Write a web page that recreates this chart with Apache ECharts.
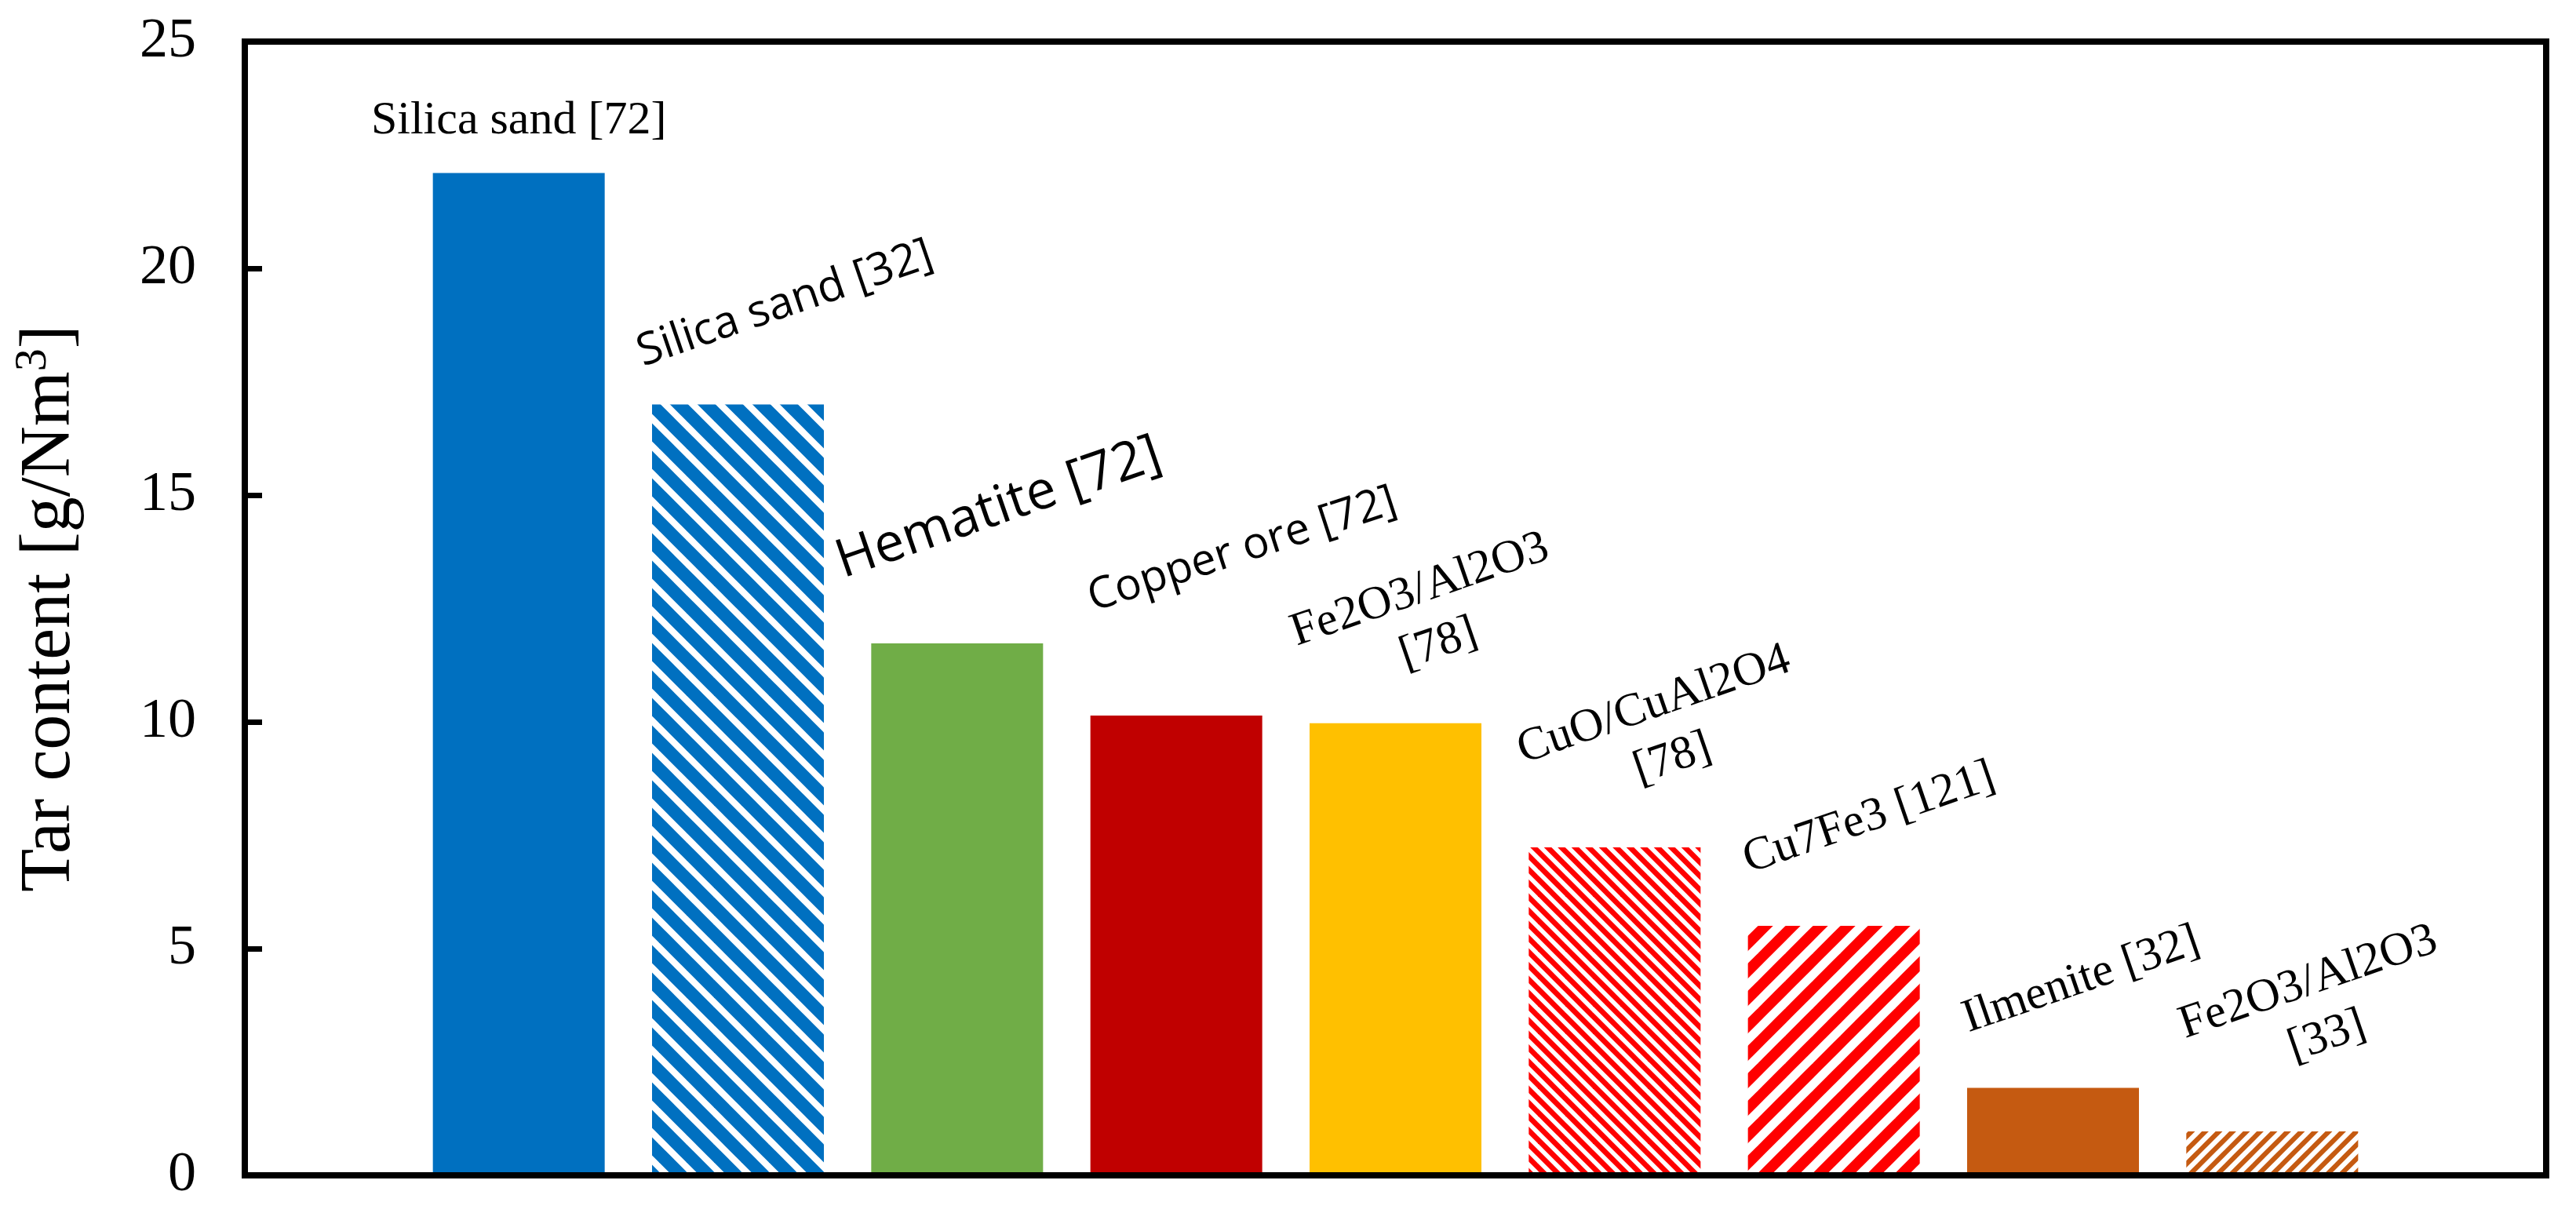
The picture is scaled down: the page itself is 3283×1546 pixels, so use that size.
<!DOCTYPE html>
<html>
<head>
<meta charset="utf-8">
<script src="https://cdn.jsdelivr.net/npm/echarts@6/dist/echarts.min.js"></script>
<style>
html,body{margin:0;padding:0;background:#ffffff;}
#chart{width:3283px;height:1546px;}
</style>
</head>
<body>
<div id="chart"></div>
<script>
// ---------------- data ----------------
const categories = [
  'Silica sand [72]',
  'Silica sand [32]',
  'Hematite [72]',
  'Copper ore [72]',
  'Fe2O3/Al2O3\n[78]',
  'CuO/CuAl2O4\n[78]',
  'Cu7Fe3 [121]',
  'Ilmenite [32]',
  'Fe2O3/Al2O3\n[33]'
];
const tarContent = [22.1, 17.0, 11.73, 10.14, 9.97, 7.23, 5.5, 1.93, 0.97];
const yTickValues = [0, 5, 10, 15, 20, 25];
const yAxisTitle = 'Tar content [g/Nm3]';

// ---------------- styles ----------------
const barFills = [
  {color: '#0070C0'},
  {color: '#0070C0', hatch: '\\', n: 1, frac: 0.66},
  {color: '#70AD47'},
  {color: '#C00000'},
  {color: '#FFC000'},
  {color: '#FF0000', hatch: '\\', n: 2, frac: 0.55},
  {color: '#FF0000', hatch: '/', n: 1, frac: 0.55},
  {color: '#C55A11'},
  {color: '#C55A11', hatch: '/', n: 2, frac: 0.5}
];
const SERIF = '"Liberation Serif", "Times New Roman", serif';
const SANS = '"Open Sans", "Noto Sans", sans-serif';
const labelLayout = [
  {dx: 0,  dy: -66,  rot: 0,  font: SERIF, size: 60},
  {dx: 60, dy: -128, rot: 19, font: SANS,  size: 57},
  {dx: 53, dy: -172, rot: 19, font: SANS,  size: 68},
  {dx: 84, dy: -211, rot: 18, font: SANS,  size: 56},
  {dx: 43, dy: -135, rot: 19, font: SERIF, size: 60},
  {dx: 62, dy: -147, rot: 19, font: SERIF, size: 60},
  {dx: 45, dy: -137, rot: 19, font: SERIF, size: 60},
  {dx: 36, dy: -137, rot: 19, font: SERIF, size: 60},
  {dx: 58, dy: -155, rot: 19, font: SERIF, size: 60}
];
const BAR_W = 219;

function hatchPattern(color, dir, n, frac) {
  const T = 35;
  const cv = document.createElement('canvas');
  cv.width = T; cv.height = T;
  const ctx = cv.getContext('2d');
  ctx.fillStyle = '#ffffff';
  ctx.fillRect(0, 0, T, T);
  ctx.strokeStyle = color;
  const p = T / n;
  ctx.lineWidth = p * frac / Math.SQRT2;
  ctx.lineCap = 'butt';
  for (let k = -n - 1; k <= 2 * n + 1; k++) {
    const c = k * p;
    ctx.beginPath();
    if (dir === '\\') {
      ctx.moveTo(c - T, -T);
      ctx.lineTo(c + 2 * T, 2 * T);
    } else {
      ctx.moveTo(c + T, -T);
      ctx.lineTo(c - 2 * T, 2 * T);
    }
    ctx.stroke();
  }
  return {image: cv, repeat: 'repeat'};
}

const seriesData = tarContent.map((v, i) => {
  const f = barFills[i];
  const L = labelLayout[i];
  return {
    name: categories[i],
    value: [i + 1, v],
    itemStyle: {color: f.hatch ? hatchPattern(f.color, f.hatch, f.n, f.frac) : f.color},
    label: {
      show: true,
      formatter: '{b}',
      position: [BAR_W / 2 + L.dx, L.dy],
      rotate: L.rot,
      align: 'center',
      verticalAlign: 'middle',
      fontFamily: L.font,
      fontSize: L.size,
      lineHeight: Math.round(L.size * 1.22),
      color: '#000000'
    }
  };
});

const chart = echarts.init(document.getElementById('chart'), null, {renderer: 'canvas', width: 3283, height: 1546});
chart.setOption({
  backgroundColor: '#ffffff',
  animation: false,
  grid: {
    left: 312, right: 38, top: 53, bottom: 48,
    show: true, borderColor: '#000000', borderWidth: 8, backgroundColor: 'transparent'
  },
  xAxis: {
    type: 'value',
    min: -0.25, max: 10.25,
    z: 10,
    axisLine: {show: true, onZero: false, lineStyle: {color: '#000000', width: 8}},
    axisTick: {show: false},
    axisLabel: {show: false},
    splitLine: {show: false}
  },
  yAxis: {
    type: 'value',
    min: yTickValues[0], max: yTickValues[yTickValues.length - 1],
    interval: yTickValues[1] - yTickValues[0],
    z: 10,
    axisLine: {show: true, onZero: false, lineStyle: {color: '#000000', width: 8}},
    axisTick: {show: true, inside: true, length: 22, lineStyle: {color: '#000000', width: 7}},
    axisLabel: {show: true, margin: 62, fontFamily: SERIF, fontSize: 72, color: '#000000'},
    splitLine: {show: false},
    name: '{t|' + yAxisTitle.slice(0, -2) + '}{s|' + yAxisTitle.slice(-2, -1) + '}{t|' + yAxisTitle.slice(-1) + '}',
    nameLocation: 'middle',
    nameGap: 248,
    nameTextStyle: {
      verticalAlign: 'middle',
      color: '#000000',
      rich: {
        t: {fontFamily: SERIF, fontSize: 90, lineHeight: 100, color: '#000000'},
        s: {fontFamily: SERIF, fontSize: 58, lineHeight: 58, verticalAlign: 'top', color: '#000000'}
      }
    }
  },
  series: [{
    type: 'bar',
    barWidth: BAR_W,
    data: seriesData
  }]
});
</script>
</body>
</html>
